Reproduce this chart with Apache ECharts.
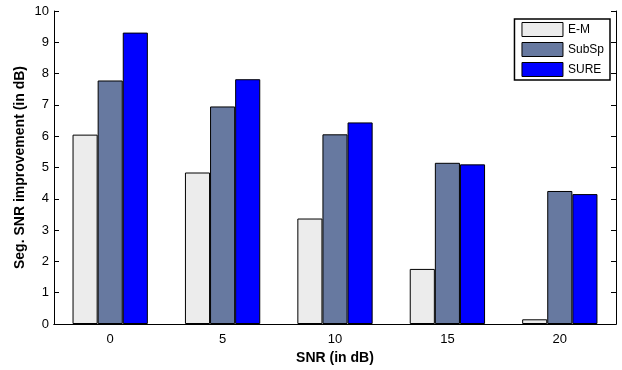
<!DOCTYPE html>
<html>
<head>
<meta charset="utf-8">
<script src="https://cdn.jsdelivr.net/npm/echarts@6/dist/echarts.min.js"></script>
<style>
  html, body { margin: 0; padding: 0; background: #fff; }
  #chart { width: 622px; height: 370px; }
</style>
</head>
<body>
<div id="chart"></div>
<script>
const categories = ['0', '5', '10', '15', '20']
const emValues = [6.05, 4.84, 3.37, 1.76, 0.15]
const subspValues = [7.78, 6.95, 6.06, 5.15, 4.25]
const sureValues = [9.31, 7.82, 6.44, 5.10, 4.15]
const yTicks = [0, 1, 2, 3, 4, 5, 6, 7, 8, 9, 10]

const font = 'Liberation Sans, Arial, sans-serif'
const chart = echarts.init(document.getElementById('chart'))

const barStyle = (color) => ({ color: color, borderColor: '#000', borderWidth: 1 })

chart.setOption({
  animation: false,
  grid: { left: 54, right: 6, top: 11, bottom: 41 },
  legend: {
    right: 12, top: 19,
    orient: 'vertical',
    icon: 'rect',
    itemWidth: 41, itemHeight: 14, itemGap: 5,
    borderColor: '#000', borderWidth: 1.5,
    padding: [3, 6, 3, 7],
    backgroundColor: '#fff',
    itemStyle: { borderColor: '#000', borderWidth: 1 },
    textStyle: { fontFamily: font, fontSize: 12, color: '#000', lineHeight: 14 },
    data: ['E-M', 'SubSp', 'SURE']
  },
  xAxis: [{
    type: 'category',
    data: categories,
    name: 'SNR (in dB)',
    nameLocation: 'middle',
    nameGap: 27,
    nameTextStyle: { fontFamily: font, fontSize: 14, fontWeight: 'bold', color: '#000' },
    axisLine: { lineStyle: { color: '#000', width: 1 } },
    axisTick: { inside: true, alignWithLabel: true, length: 5, lineStyle: { color: '#000' } },
    axisLabel: { fontFamily: font, fontSize: 13, color: '#000', margin: 9 }
  }, {
    type: 'category',
    data: categories,
    position: 'top',
    axisLine: { lineStyle: { color: '#000', width: 1 } },
    axisTick: { inside: true, alignWithLabel: true, length: 5, lineStyle: { color: '#000' } },
    axisLabel: { show: false }
  }],
  yAxis: [{
    type: 'value',
    min: 0, max: 10, interval: 1,
    name: 'Seg. SNR improvement (in dB)',
    nameLocation: 'middle',
    nameGap: 27,
    nameMoveOverlap: false,
    nameTextStyle: { fontFamily: font, fontSize: 14, fontWeight: 'bold', color: '#000' },
    axisLine: { show: true, lineStyle: { color: '#000', width: 1 } },
    axisTick: { show: true, inside: true, length: 5, lineStyle: { color: '#000' } },
    axisLabel: {
      fontFamily: font, fontSize: 13, color: '#000', margin: 5,
      formatter: (v) => yTicks.includes(v) ? String(v) : ''
    },
    splitLine: { show: false }
  }, {
    type: 'value',
    min: 0, max: 10, interval: 1,
    position: 'right',
    axisLine: { show: true, lineStyle: { color: '#000', width: 1 } },
    axisTick: { show: true, inside: true, length: 5, lineStyle: { color: '#000' } },
    axisLabel: { show: false },
    splitLine: { show: false }
  }],
  series: [
    { name: 'E-M', type: 'bar', data: emValues, barGap: '0%', barCategoryGap: '33%', itemStyle: barStyle('#ececec') },
    { name: 'SubSp', type: 'bar', data: subspValues, barGap: '0%', barCategoryGap: '33%', itemStyle: barStyle('#6779a0') },
    { name: 'SURE', type: 'bar', data: sureValues, barGap: '0%', barCategoryGap: '33%', itemStyle: barStyle('#0000ff') }
  ]
})
</script>
</body>
</html>
